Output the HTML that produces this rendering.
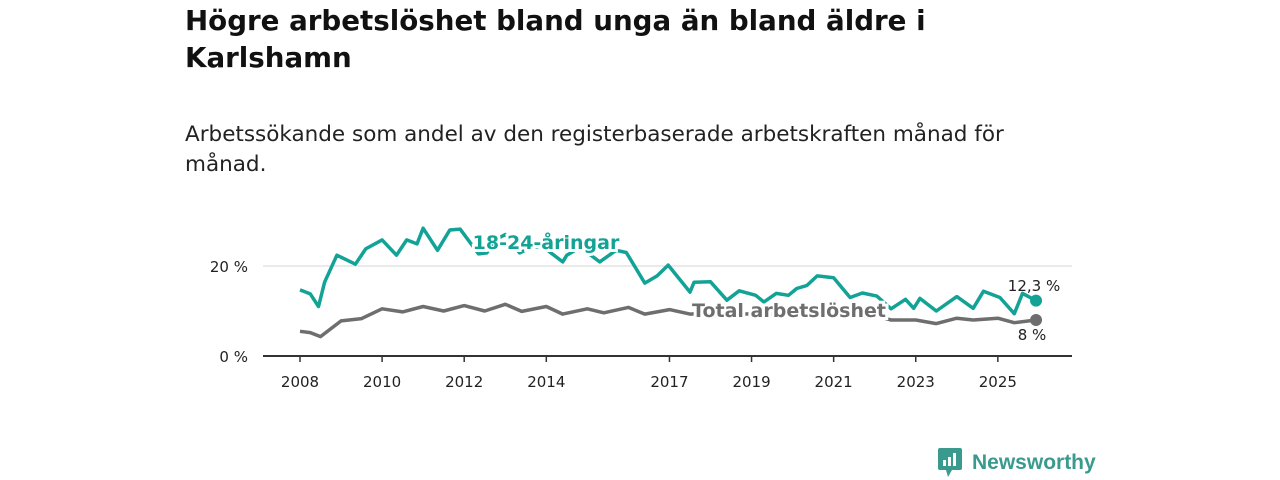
<!DOCTYPE html>
<html><head><meta charset="utf-8"><style>
body{margin:0;width:1280px;height:480px;background:#fff;font-family:"DejaVu Sans","Liberation Sans",sans-serif;overflow:hidden;position:relative}
h1{position:absolute;left:185px;top:2px;margin:0;font-size:27.7px;line-height:37px;font-weight:bold;color:#111;width:900px;white-space:nowrap}
p.sub{position:absolute;left:185px;top:120px;margin:0;font-size:21.5px;line-height:30px;color:#222;width:900px;white-space:nowrap}
svg{position:absolute;left:0;top:0}
.logo{position:absolute;left:938px;top:448px;display:flex;align-items:center;color:#3a9a8e;font-size:21px;font-weight:bold;font-family:"Liberation Sans",sans-serif}
</style></head><body>
<h1>Högre arbetslöshet bland unga än bland äldre i<br>Karlshamn</h1>
<p class="sub">Arbetssökande som andel av den registerbaserade arbetskraften månad för<br>månad.</p>
<svg id="chart" width="1280" height="480"></svg>
<div class="logo">
<svg width="26" height="30" style="position:static;margin-right:8px"><rect x="0" y="0" width="24" height="22" rx="2" fill="#3a9a8e"/><polygon points="8,22 14,22 10,29" fill="#3a9a8e"/><rect x="5" y="12" width="3" height="6" fill="#fff"/><rect x="10" y="9" width="3" height="9" fill="#fff"/><rect x="15" y="5" width="3" height="13" fill="#fff"/></svg>
<span>Newsworthy</span></div>
<script>
const youthT=[2008,2008.25,2008.45,2008.6,2008.9,2009.35,2009.6,2010,2010.35,2010.6,2010.85,2011,2011.35,2011.65,2011.9,2012.35,2012.55,2012.8,2013,2013.35,2013.6,2013.9,2014.1,2014.4,2014.5,2014.8,2015,2015.3,2015.7,2015.95,2016.4,2016.7,2016.97,2017.5,2017.6,2018,2018.4,2018.7,2019.1,2019.3,2019.6,2019.9,2020.1,2020.35,2020.6,2021,2021.4,2021.7,2022.05,2022.4,2022.75,2022.95,2023.1,2023.5,2024,2024.4,2024.65,2025.05,2025.4,2025.6,2025.93];
const youthV=[14.7,13.8,11,16.4,22.4,20.4,23.8,25.8,22.4,25.8,24.9,28.4,23.5,28,28.2,22.7,22.9,26,27,22.9,24,24.5,23,20.9,22.4,24,23,20.9,23.5,23,16.2,17.8,20.2,14.2,16.4,16.5,12.4,14.5,13.5,12,13.9,13.5,15,15.7,17.8,17.4,13,14,13.3,10.5,12.6,10.6,12.8,10,13.2,10.6,14.4,13,9.4,13.9,12.3];
const totT=[2008,2008.25,2008.5,2009,2009.5,2010,2010.5,2011,2011.5,2012,2012.5,2013,2013.4,2014,2014.4,2015,2015.4,2016,2016.4,2017,2017.5,2018,2018.5,2019,2019.5,2020,2020.5,2021,2021.5,2022,2022.4,2023,2023.5,2024,2024.4,2025,2025.4,2025.93];
const totV=[5.5,5.2,4.3,7.8,8.3,10.5,9.8,11,10,11.2,10,11.5,9.9,11,9.3,10.5,9.6,10.8,9.3,10.3,9.3,9.6,9.2,9.4,9.3,9.5,9.4,9.6,9.2,9,8,8,7.2,8.4,8,8.4,7.4,8];
const yTicks=[0,20];
const xTicks=[2008,2010,2012,2014,2017,2019,2021,2023,2025];
const X=t=>300+(t-2008)*41.05, Y=v=>356-v*4.5;
const svg=document.getElementById('chart');const NS='http://www.w3.org/2000/svg';
function mk(tag,attrs,txt){const e=document.createElementNS(NS,tag);for(const k in attrs)e.setAttribute(k,attrs[k]);if(txt!=null)e.textContent=txt;svg.appendChild(e);return e;}
const F='DejaVu Sans, Liberation Sans, sans-serif';
yTicks.forEach(v=>{
 if(v>0){const g=mk('line',{x1:263,x2:1072,y1:Y(v),y2:Y(v),stroke:'#d6d6d6','stroke-width':1});
 
 }
 const t=mk('text',{x:248,y:Y(v)+6,'text-anchor':'end','font-size':15,fill:'#222','font-family':F},v+' %');
 
 
});
const ax=mk('line',{x1:263,x2:1072,y1:356,y2:356,stroke:'#333','stroke-width':2});


xTicks.forEach(y=>{
 const tk=mk('line',{x1:X(y),x2:X(y),y1:356,y2:362,stroke:'#333','stroke-width':1.5});
 
 
 const t=mk('text',{x:X(y),y:387,'text-anchor':'middle','font-size':15,fill:'#222','font-family':F},y);
 
 
});
function line(T,V,col,name){
 const d=T.map((t,i)=>(i?'L':'M')+X(t).toFixed(1)+','+Y(V[i]).toFixed(1)).join('');
 const p=mk('path',{d:d,fill:'none',stroke:col,'stroke-width':3.5,'stroke-linejoin':'round'});
 
 
 const n=T.length-1;
 const c=mk('circle',{cx:X(T[n]),cy:Y(V[n]),r:6,fill:col});
 
 
}
line(totT,totV,'#6e6e6e','total-line');
line(youthT,youthV,'#13a396','youth-line');
const l1=mk('text',{x:546,y:249,'text-anchor':'middle','font-size':19,'font-weight':'bold',fill:'#13a396',stroke:'#fff','stroke-width':6,'paint-order':'stroke','font-family':F},'18-24-åringar');


const l2=mk('text',{x:789,y:317,'text-anchor':'middle','font-size':19,'font-weight':'bold',fill:'#6e6e6e',stroke:'#fff','stroke-width':6,'paint-order':'stroke','font-family':F},'Total arbetslöshet');


const v1=mk('text',{x:1034,y:291,'text-anchor':'middle','font-size':15,fill:'#222','font-family':F},'12,3 %');


const v2=mk('text',{x:1032,y:340,'text-anchor':'middle','font-size':15,fill:'#222','font-family':F},'8 %');


</script>
</body></html>
